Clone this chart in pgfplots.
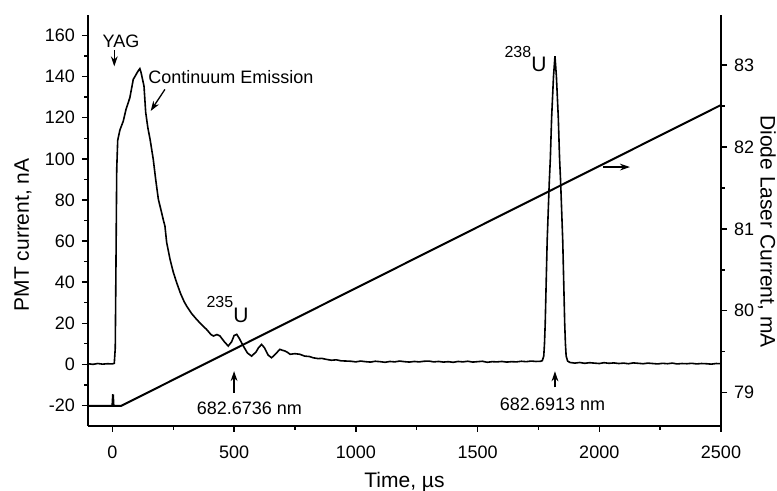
\documentclass[border=0pt]{standalone}
\usepackage{fontspec}
\setmainfont{Liberation Sans}
\usepackage{pgfplots}
\pgfplotsset{compat=1.18}
\usetikzlibrary{arrows.meta}

\pgfplotsset{
  common/.style={
    scale only axis, width=316.5pt, height=205.5pt,
    xmin=-100, xmax=2500,
    tick align=outside,
    major tick length=3pt, minor tick length=1.8pt,
    every tick/.style={black, line width=0.7pt},
    axis line style={line width=0.7pt},
    tick label style={font=\fontsize{9}{10}\selectfont},
    label style={font=\fontsize{10.5}{12}\selectfont},
    /pgf/number format/assume math mode=true,
    /pgf/number format/1000 sep={},
  }
}
\tikzset{ann/.style={-{Stealth[length=5pt,width=3.4pt]}, line width=0.65pt},
  lab/.style={font=\fontsize{9}{10}\selectfont, inner sep=0pt}}

\begin{document}
\begin{tikzpicture}
\begin{axis}[common,
  ymin=-30, ymax=170,
  axis x line*=bottom, axis y line*=left,
  xtick={0,500,...,2500}, minor x tick num=1,
  ytick={-20,0,...,160}, minor y tick num=1,
  xticklabel style={yshift=-3.5pt},
  xlabel={Time, µs},
  xlabel style={at={(axis description cs:0.5,0)}, anchor=center, yshift=-27.9pt},
  ylabel={PMT current, nA},
  ylabel style={at={(axis description cs:-0.1027,0.465)}, anchor=center},
  clip=false]
% PMT signal
\addplot[black, line width=0.8pt] coordinates {
 (-100,0.3) (-80,0.0) (-60,0.4) (-40,0.1) (-20,0.3) (0,0.2) (8,0.5) (12,8)
 (15,50) (18,95) (22,109) (31,114) (45,118.4) (56,124) (72,129.8) (86,138.7)
 (95,140.5) (105,142.6) (113,143.9) (118,142) (130,135.4) (137,122.6) (146,115)
 (155,109.5) (168,99.8) (178,90) (189,80.3) (200,75) (210,70) (216,67.3)
 (223,59.4) (237,51.1) (250,45) (264,39.8) (280,34.5) (295,30.5) (305,28.4)
 (325,24.8) (346,21.9) (365,19.5) (387,17.0) (405,14.5) (415,13.8) (430,14.5)
 (442,13.8) (460,11) (476,8.9) (490,11) (500,14) (511,14.6) (522,12.5) (538,8.9)
 (555,5.5) (572,4.0) (590,6) (600,8.0) (613,9.7) (625,8) (640,4.5) (654,3.2)
 (670,5) (688,7.3) (700,6.8) (709,6.5) (720,5.8) (730,4.9) (750,5.2) (770,4.9)
 (790,4.0) (810,3.8) (825,3.2) (845,2.8) (860,2.9) (880,2.4) (900,2.0) (920,2.2)
 (940,1.7) (962,1.6) (980,1.5) (1000,1.2) (1020,1.6) (1040,1.3) (1060,1.1)
 (1080,1.5) (1100,1.3) (1120,1.0) (1140,1.4) (1160,1.2) (1180,1.6) (1200,1.3)
 (1220,1.1) (1240,1.4) (1260,1.2) (1280,1.5) (1300,1.6) (1320,1.2) (1340,1.4)
 (1360,1.1) (1380,1.3) (1400,1.0) (1420,1.4) (1440,1.2) (1460,1.5) (1480,1.1)
 (1500,1.3) (1520,1.5) (1540,1.0) (1560,1.3) (1580,1.2) (1600,1.4) (1620,1.1)
 (1640,1.3) (1660,1.2) (1680,1.5) (1700,1.3) (1720,1.6) (1740,1.4) (1760,1.5)
 (1766,1.8) (1772,4) (1775,10) (1778,20) (1782,40) (1786,60) (1794.6,88.5)
 (1799,100) (1804.3,120) (1812,140) (1818,150) (1824,140) (1831.7,120) (1837,100)
 (1841.4,88.5) (1850,60) (1854,40) (1858,20) (1861,10) (1864,4) (1870,1.6)
 (1880,0.9) (1900,0.6) (1920,0.9) (1940,0.5) (1960,0.8) (1980,0.6) (2000,0.4)
 (2020,0.8) (2040,0.5) (2060,0.7) (2080,0.4) (2100,0.6) (2120,0.3) (2140,0.7)
 (2160,0.5) (2180,0.3) (2200,0.6) (2220,0.4) (2240,0.2) (2260,0.5) (2280,0.3)
 (2300,0.6) (2320,0.2) (2340,0.4) (2360,0.3) (2380,0.5) (2400,0.2) (2420,0.4)
 (2440,0.3) (2460,0.1) (2480,0.4) (2500,0.3)};
% annotations
\node[lab] at (axis cs:35.5,157) {YAG};
\draw[ann] (axis cs:8,153) -- (axis cs:8,145);
\node[lab, anchor=west] at (axis cs:146,139.7) {Continuum Emission};
\draw[ann] (axis cs:216,133.8) -- (axis cs:157.5,123.3);
\node[inner sep=0pt, anchor=base] at (axis cs:473,20.3)
  {\raisebox{7.5pt}{\fontsize{8}{8}\selectfont 235}\fontsize{10.5}{12}\selectfont U};
\node[inner sep=0pt, anchor=base] at (axis cs:1697,142.7)
  {\raisebox{7pt}{\fontsize{8}{8}\selectfont 238}\fontsize{10.5}{12}\selectfont U};
\draw[ann] (axis cs:500,-13.9) -- (axis cs:500,-3.3);
\node[lab] at (axis cs:563,-21.4) {682.6736 nm};
\draw[ann] (axis cs:1818,-11.2) -- (axis cs:1818,-3.4);
\node[lab] at (axis cs:1808,-19.5) {682.6913 nm};
\draw[ann] (axis cs:2015,96) -- (axis cs:2126,96);
\end{axis}

\begin{axis}[common,
  ymin=78.593, ymax=83.612,
  axis x line=none, axis y line*=right,
  ytick={79,...,83}, minor y tick num=1,
  ylabel={Diode Laser Current, mA},
  ylabel style={at={(axis description cs:1.0727,0.473)}, anchor=center, rotate=180}]
\addplot[black, line width=1pt] coordinates {
 (-100,78.84) (0,78.84) (2.7,78.98) (5,78.84) (37,78.84) (2500,82.513)};
\end{axis}
\pgfresetboundingbox
\path[use as bounding box] (-44pt,-32.5pt) rectangle (344.5pt,213pt);
\end{tikzpicture}
\end{document}
